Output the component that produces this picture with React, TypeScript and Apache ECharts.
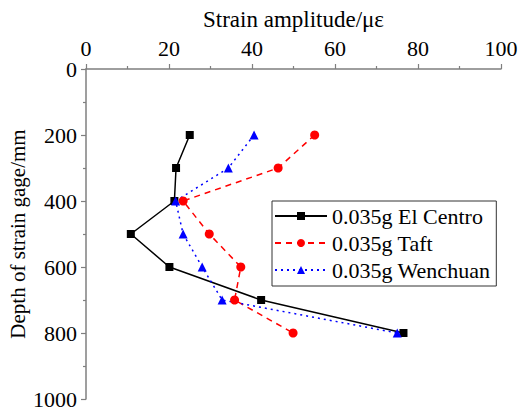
import React, { useEffect, useRef } from "react";
import * as echarts from "echarts";

const depths = [200, 300, 400, 500, 600, 700, 800];
const elCentro = [25, 21.7, 21.3, 10.8, 20.1, 42.2, 76.5];
const taft = [55.1, 46.3, 23.4, 29.7, 37.3, 35.8, 49.9];
const wenchuan = [40.5, 34.3, 21.6, 23.4, 28, 32.8, 75];
const seriesNames = ["0.035g El Centro", "0.035g Taft", "0.035g Wenchuan"];
const xTicks = { min: 0, max: 100, interval: 20 };
const yTicks = { min: 0, max: 1000, interval: 200 };

const FONT = "Liberation Serif";

export default function App() {
  const ref = useRef<HTMLDivElement>(null);
  useEffect(() => {
    document.body.style.margin = "0";
    const chart = echarts.init(ref.current!, null, { renderer: "svg" });
    const pair = (vals: number[]) => vals.map((v, i) => [v, depths[i]]);
    const axisCommon = {
      axisLine: { show: true, lineStyle: { color: "#7f7f7f", width: 1.5 } },
      axisTick: { show: true, inside: false, length: 5, lineStyle: { color: "#7f7f7f", width: 1.2 } },
      minorTick: { show: true, splitNumber: 2, length: 3, lineStyle: { color: "#7f7f7f", width: 1.2 } },
      splitLine: { show: false },
      minorSplitLine: { show: false },
      axisLabel: { color: "#000", fontFamily: FONT, fontSize: 22, formatter: (v: number) => String(v) },
      nameTextStyle: { color: "#000", fontFamily: FONT, fontSize: 22 },
      nameMoveOverlap: false,
    };
    chart.setOption({
      animation: false,
      textStyle: { fontFamily: FONT },
      grid: { left: 86, top: 69, right: 18, bottom: 12, containLabel: false, outerBoundsMode: "none" },
      xAxis: {
        type: "value",
        position: "top",
        ...xTicks,
        name: "Strain amplitude/με",
        nameLocation: "middle",
        nameGap: 38,
        ...axisCommon,
        nameTextStyle: { ...axisCommon.nameTextStyle, fontSize: 23 },
        axisLabel: { ...axisCommon.axisLabel, margin: 10 },
      },
      yAxis: {
        type: "value",
        inverse: true,
        ...yTicks,
        name: "Depth of strain gage/mm",
        nameLocation: "middle",
        nameGap: 58,
        ...axisCommon,
        nameTextStyle: { ...axisCommon.nameTextStyle, fontSize: 21 },
        axisLabel: { ...axisCommon.axisLabel, margin: 9 },
      },
      legend: {
        orient: "vertical",
        left: 272,
        top: 201,
        padding: [4, 6, 5, 2],
        borderColor: "#333",
        borderWidth: 1,
        itemWidth: 52,
        itemHeight: 10,
        itemGap: 5,
        textStyle: { color: "#000", fontFamily: FONT, fontSize: 22, lineHeight: 22 },
        data: seriesNames,
      },
      series: [
        {
          name: seriesNames[0],
          type: "line",
          data: pair(elCentro),
          symbol: "rect",
          symbolSize: 8,
          itemStyle: { color: "#000" },
          lineStyle: { color: "#000", width: 1.5, type: "solid" },
        },
        {
          name: seriesNames[1],
          type: "line",
          data: pair(taft),
          symbol: "circle",
          symbolSize: 9,
          itemStyle: { color: "#ff0000" },
          lineStyle: { color: "#ff0000", width: 1.5, type: [6, 5] },
        },
        {
          name: seriesNames[2],
          type: "line",
          data: pair(wenchuan),
          symbol: "triangle",
          symbolSize: 9,
          itemStyle: { color: "#0000ff" },
          lineStyle: { color: "#0000ff", width: 1.5, type: [2, 4] },
        },
      ],
    });
    return () => chart.dispose();
  }, []);
  return <div ref={ref} style={{ width: 519, height: 411 }} />;
}
